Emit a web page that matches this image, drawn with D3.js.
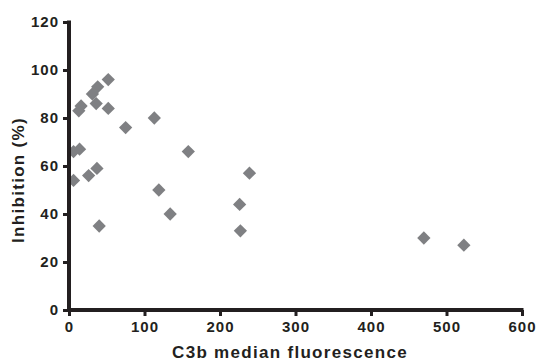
<!DOCTYPE html>
<html>
<head>
<meta charset="utf-8">
<script src="https://cdn.jsdelivr.net/npm/d3@7"></script>
<style>
  body { margin: 0; background: #fff; }
  svg { display: block; font-family: "Liberation Sans", Arial, sans-serif; }
</style>
</head>
<body>
<div id="chart"></div>
<script>
// C3b median fluorescence vs inhibition (%)
const fluorescence = [52, 38, 31, 16, 13, 36, 52, 75, 113, 14, 6, 158, 37, 26, 6, 239, 119, 226, 134, 40, 227, 470, 523];
const inhibition   = [96, 93, 90, 85, 83, 86, 84, 76, 80, 67, 66, 66, 59, 56, 54, 57, 50, 44, 40, 35, 33, 30, 27];
const xTicks = [0, 100, 200, 300, 400, 500, 600];
const yTicks = [0, 20, 40, 60, 80, 100, 120];

const width = 538, height = 362;
const margin = {top: 22, right: 16, bottom: 52, left: 69};
const ink = "#231f20";

const svg = d3.select("#chart").append("svg")
  .attr("width", width)
  .attr("height", height);

const x = d3.scaleLinear().domain([0, 600]).range([margin.left, width - margin.right]);
const y = d3.scaleLinear().domain([0, 120]).range([height - margin.bottom, margin.top]);

// points
const diamond = d3.symbol(d3.symbolSquare, 88);
svg.append("g")
  .selectAll("path")
  .data(fluorescence.map((v, i) => [v, inhibition[i]]))
  .join("path")
  .attr("d", diamond)
  .attr("transform", d => `translate(${x(d[0])},${y(d[1])}) rotate(45)`)
  .attr("fill", "#7f8083");

// axes
function styleAxis(g) {
  g.attr("font-family", null).attr("font-size", null);
  g.select(".domain").remove();
  g.selectAll(".tick line").attr("stroke", ink).attr("stroke-width", 3);
  g.selectAll(".tick text")
    .attr("fill", ink)
    .style("font-size", "15px")
    .style("font-weight", "bold")
    .style("letter-spacing", "1px");
}

svg.append("g")
  .attr("transform", `translate(0,${y(0)})`)
  .call(d3.axisBottom(x).tickValues(xTicks).tickSize(6).tickPadding(5))
  .call(styleAxis)
  .append("line")
  .attr("x1", x(0) - 2).attr("x2", x(600) + 1.5)
  .attr("stroke", ink).attr("stroke-width", 4);

svg.append("g")
  .attr("transform", `translate(${x(0)},0)`)
  .call(d3.axisLeft(y).tickValues(yTicks).tickSize(6).tickPadding(4))
  .call(styleAxis)
  .append("line")
  .attr("y1", y(0) + 2).attr("y2", y(120) - 1.5)
  .attr("stroke", ink).attr("stroke-width", 4);

// titles
svg.append("text")
  .attr("x", 290)
  .attr("y", 358)
  .attr("text-anchor", "middle")
  .style("font-size", "17px")
  .style("font-weight", "bold")
  .style("letter-spacing", "1.3px")
  .style("fill", ink)
  .text("C3b median fluorescence");

svg.append("text")
  .attr("transform", "translate(24,180) rotate(-90)")
  .attr("text-anchor", "middle")
  .style("font-size", "17px")
  .style("font-weight", "bold")
  .style("letter-spacing", "1.3px")
  .style("fill", ink)
  .text("Inhibition (%)");
</script>
</body>
</html>
